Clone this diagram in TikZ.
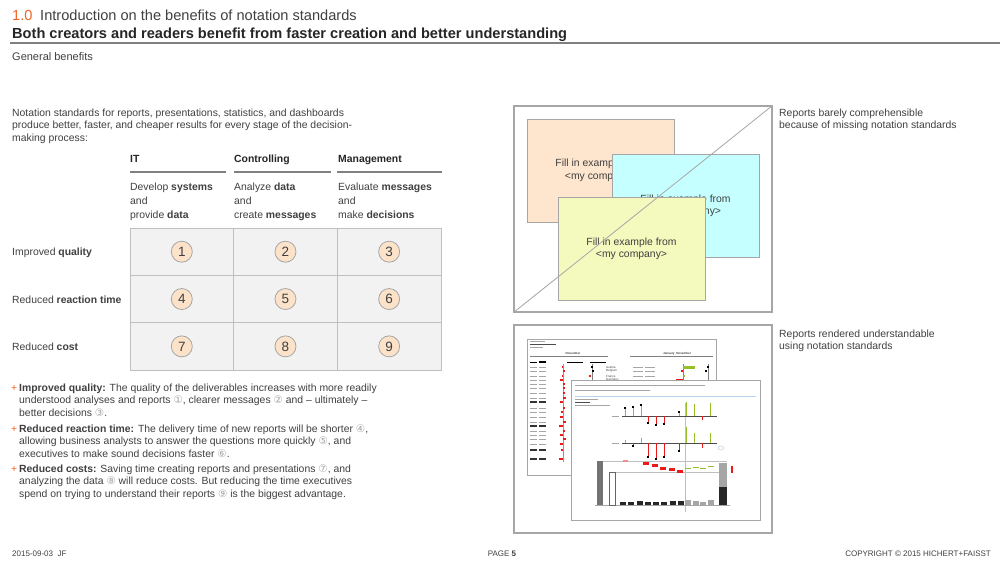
\documentclass[tikz,border=0pt]{standalone}
\usepackage{fontspec}
\setmainfont{Liberation Sans}
\newfontfamily\symfont{DejaVu Sans}
\usepackage{tikz}
\usetikzlibrary{positioning}
\definecolor{hfOrange}{RGB}{242,101,34}
\definecolor{hfText}{RGB}{64,64,64}
\definecolor{hfDark}{RGB}{38,38,38}
\definecolor{hfRule}{RGB}{128,128,128}
\definecolor{hfFrame}{RGB}{166,166,166}
\definecolor{hfCell}{RGB}{242,242,242}
\definecolor{hfCellLine}{RGB}{191,191,191}
\definecolor{hfPeach}{RGB}{253,229,206}
\definecolor{hfCircle}{RGB}{252,226,200}
\definecolor{hfCyan}{RGB}{197,255,255}
\definecolor{hfYellow}{RGB}{244,249,190}
\definecolor{hfGreen}{RGB}{150,190,40}
\definecolor{hfRed}{RGB}{235,25,25}
\definecolor{hfBlue}{RGB}{185,210,235}
\newcommand{\circnum}[1]{{\symfont\color{hfFrame}#1}}
\newcommand{\bodyfont}{\fontsize{10.4}{12.6}\selectfont}
\tikzset{
  body/.style={inner sep=0, anchor=base west, text=hfText, font=\bodyfont},
  para/.style={inner sep=0, anchor=north west, align=left, text=hfText, font=\bodyfont},
  plus/.style={inner sep=0, anchor=base west, text=hfOrange, font=\bodyfont},
  colhead/.style={inner sep=0, anchor=base west, text=hfDark, font=\bodyfont\bfseries},
  cellbox/.style={draw=hfCellLine, fill=hfCell, line width=0.8, minimum width=103.67, minimum height=47.33, inner sep=0},
  numcircle/.style={circle, draw=hfFrame, fill=hfCircle, line width=0.8, minimum size=21, inner sep=0, text=hfText, font=\fontsize{13.5}{13.5}\selectfont},
  picframe/.style={draw=hfFrame, line width=1.2, minimum width=258, inner sep=0},
  samplebox/.style={draw=hfFrame, line width=0.8, minimum width=147, minimum height=103, align=center, text=hfText, font=\bodyfont},
  footer/.style={inner sep=0, text=hfText, font=\fontsize{8}{9}\selectfont},
  thumbframe/.style={draw=hfFrame, line width=0.8, fill=white},
  txtstroke/.style={draw=gray!70, line width=1},
  tinytext/.style={inner sep=0, text=hfText, font=\fontsize{3}{3}\selectfont}
}

\begin{document}
\begin{tikzpicture}[x=1pt, y=-1pt]
	\fill[white] (0,0) rectangle (1000,562);
	\useasboundingbox (0,0) rectangle (1000,562);
	% title
	\node[inner sep=0, anchor=base west, text=hfOrange, font=\fontsize{14.6}{16}\selectfont] (secnum) at (12,20) {1.0};
	\node[inner sep=0, anchor=base west, text=hfText, font=\fontsize{14.6}{16}\selectfont] (sectitle) at (40,20) {Introduction on the benefits of notation standards};
	\node[inner sep=0, anchor=base west, text=hfDark, font=\fontsize{14.6}{16}\selectfont\bfseries] (headline) at (12,38) {Both creators and readers benefit from faster creation and better understanding};
	\draw[hfRule, line width=1.5] (10,43) -- (1000,43);
	\node[body, font=\fontsize{11}{13}\selectfont] (subhead) at (12,60) {General benefits};

	% intro and table
	\node[para] (intro) at (12,108.5) {Notation standards for reports, presentations, statistics, and dashboards\\produce better, faster, and cheaper results for every stage of the decision-\\making process:};
	\node[colhead] (headIT) at (130,162) {IT};
	\node[colhead] (headCtrl) at (234,162) {Controlling};
	\node[colhead] (headMgmt) at (338,162) {Management};
	\draw[hfRule, line width=2] (130,172) -- (226,172);
	\draw[hfRule, line width=2] (234,172) -- (331,172);
	\draw[hfRule, line width=2] (337,172) -- (442,172);
	\node[para, font=\fontsize{10.4}{14}\selectfont] (taskIT) at (130,182.5) {Develop \textbf{systems}\\and\\provide \textbf{data}};
	\node[para, font=\fontsize{10.4}{14}\selectfont] (taskCtrl) at (234,182.5) {Analyze \textbf{data}\\and\\create \textbf{messages}};
	\node[para, font=\fontsize{10.4}{14}\selectfont] (taskMgmt) at (338,182.5) {Evaluate \textbf{messages}\\and\\make \textbf{decisions}};

	\foreach \r in {0,1,2}
		\foreach \c in {0,1,2} {
			\pgfmathtruncatemacro{\n}{3*\r+\c+1}
			\node[cellbox] (cell\n) at (181.8+103.67*\c, 251.7+47.33*\r) {};
			\node[numcircle] (num\n) at (cell\n) {\n};
		}
	\node[body] (rowQuality) at (12,255) {Improved \textbf{quality}};
	\node[body] (rowTime) at (12,303) {Reduced \textbf{reaction time}};
	\node[body] (rowCost) at (12,350) {Reduced \textbf{cost}};

	% bullets
	\node[plus] (plusA) at (11,391) {+};
	\node[para] (bulletA) at (19,383.5) {\textbf{Improved quality:} The quality of the deliverables increases with more readily\\understood analyses and reports \circnum{①}, clearer messages \circnum{②} and -- ultimately --\\better decisions \circnum{③}.};
	\node[plus] (plusB) at (11,432) {+};
	\node[para] (bulletB) at (19,424.5) {\textbf{Reduced reaction time:} The delivery time of new reports will be shorter \circnum{④},\\allowing business analysts to answer the questions more quickly \circnum{⑤}, and\\executives to make sound decisions faster \circnum{⑥}.};
	\node[plus] (plusC) at (11,472) {+};
	\node[para] (bulletC) at (19,464.5) {\textbf{Reduced costs:} Saving time creating reports and presentations \circnum{⑦}, and\\analyzing the data \circnum{⑧} will reduce costs. But reducing the time executives\\spend on trying to understand their reports \circnum{⑨} is the biggest advantage.};

	% upper picture
	\node[picframe, minimum height=206] (badframe) at (643,209) {};
	\node[samplebox, fill=hfPeach] (peachbox) at (600.5,170.5) {Fill in example from\\<my company>};
	\node[samplebox, fill=hfCyan] (cyanbox) at (685.5,206) {Fill in example from\\<my company>};
	\node[samplebox, fill=hfYellow] (yellowbox) at (631.5,249) {Fill in example from\\<my company>};
	\draw[hfFrame, line width=0.8] (badframe.south west) -- (badframe.north east);
	\node[para] (badlabel) at (779,108.5) {Reports barely comprehensible\\because of missing notation standards};

	% lower picture
	\node[picframe, minimum height=208] (goodframe) at (643,429) {};
	\node[para] (goodlabel) at (779,329.5) {Reports rendered understandable\\using notation standards};

	% table report thumbnail
	\draw[thumbframe] (527,339) rectangle (716,475);
	\draw[txtstroke] (530,341.5) -- (545,341.5);
	\draw[txtstroke, draw=black!70] (530,344.5) -- (556,344.5);
	\draw[txtstroke] (530,347.5) -- (543,347.5);
	\node[tinytext] (tNov) at (573,353.5) {\textbf{November}};
	\node[tinytext] (tJanNov) at (677,353.5) {\textbf{January\_November}};
	\draw[gray, line width=0.5] (530,356) -- (608,356);
	\draw[gray, line width=0.5] (630,356) -- (713,356);
	\draw[black, line width=0.5] (530,362) -- (537,362) (567,362) -- (583,362) (590,362) -- (606,362);
	\draw[black, line width=1.2] (539,362) -- (546,362);
	\foreach \y in {367,371,376,380,384,388,393,398,408,412,417,422,431,435,439,444}
		\draw[txtstroke, line width=0.8] (530,\y) -- (537,\y) (539,\y) -- (546,\y);
	\foreach \y in {402,426,450,459}
		\draw[txtstroke, draw=black!80, line width=1.2] (530,\y) -- (537,\y) (539,\y) -- (546,\y);
	\draw[hfGreen!70!gray, line width=0.8] (563,364) -- (563,462);
	\foreach \y/\v in {367/-1,371/2,376/-1,380/-3,384/2,388/2,393/2,398/3,402/-3,408/2,412/-2,417/-3,422/3,426/-4,431/2,435/-3,439/3,444/-3,450/-2,459/-4}
		\fill[hfRed] (563,\y-1) rectangle (563+\v,\y+1);
	\draw[gray, line width=0.5] (592,364) -- (592,382);
	\fill[black] (590.5,366) rectangle (592.5,368);
	\fill[black] (592,370) rectangle (594,372);
	\fill[hfRed] (589,375) rectangle (591,377);
	\foreach \y/\name in {367/Austria,371/Belgium,376/France,380/Germany} {
		\node[tinytext, anchor=west] (t\name) at (606,\y) {\name};
		\draw[txtstroke, line width=0.8] (633,\y) -- (643,\y) (645,\y) -- (655,\y);
	}
	\draw[gray, line width=0.5] (683,364) -- (683,382) (708,364) -- (708,382);
	\fill[hfGreen] (683,366) rectangle (695,368.5);
	\fill[hfRed] (681,370) rectangle (683,372);
	\fill[hfGreen] (683,375) rectangle (685,377);
	\fill[hfRed] (676,379) rectangle (683,381);
	\fill[black] (707,366) rectangle (709,368);
	\fill[black] (705,370) rectangle (707,372);

	% chart report thumbnail
	\draw[thumbframe] (571,380) rectangle (760,520);
	\draw[txtstroke] (575,385) -- (705,385);
	\draw[txtstroke] (575,390) -- (650,390);
	\draw[hfBlue, line width=0.8] (575,396) -- (756,396);
	\draw[txtstroke, line width=0.8] (575,399.5) -- (598,399.5) (575,405.5) -- (610,405.5);
	\draw[txtstroke, draw=black!70, line width=0.8] (575,402.5) -- (590,402.5);
	\draw[gray!50, line width=0.6] (685,403) -- (685,512);
	\foreach \ya in {416,443} {
		\draw[black!70, line width=0.8] (622,\ya) -- (717,\ya);
		\draw[txtstroke, line width=0.8] (612,\ya) -- (619,\ya);
	}
	\foreach \x/\h in {625/8,633/9,641/11,679/4,686/14,694/12,710/13}
		\draw[hfGreen, line width=1] (\x,416) -- (\x,416-\h);
	\foreach \x/\h in {625/8,633/9,641/11,679/4}
		\fill[black] (\x-1.3,416-\h-1.3) rectangle (\x+1.3,416-\h+1.3);
	\foreach \x/\h in {648/7,656/9,664/8,702/4}
		\draw[hfRed, line width=1] (\x,416) -- (\x,416+\h);
	\foreach \x/\h in {648/7,656/9,664/8}
		\fill[black] (\x-1.3,416+\h-1.3) rectangle (\x+1.3,416+\h+1.3);
	\foreach \x/\h in {625/3,641/5,686/16,694/10,710/10}
		\draw[hfGreen, line width=1] (\x,443) -- (\x,443-\h);
	\foreach \x/\h in {633/3,648/14,656/16,664/14,679/8,702/5}
		\draw[hfRed, line width=1] (\x,443) -- (\x,443+\h);
	\foreach \x/\h in {633/3,648/14,656/16,664/14,679/8}
		\fill[black] (\x-1.3,443+\h-1.3) rectangle (\x+1.3,443+\h+1.3);
	\draw[hfBlue, line width=0.5] (721,448) ellipse (3 and 2);
	\draw[gray!50, line width=0.5] (597,461) -- (727,461) (609,472) -- (727,472);
	\draw[gray!70, line width=0.6] (595,505) -- (730,505);
	\fill[black!55] (597,461) rectangle (603,505);
	\draw[black!60, line width=0.5] (609,472) rectangle (615,505);
	\foreach \x/\y in {646/462,655/464,663/467,672/468,680/470}
		\fill[hfRed] (\x-3,\y) rectangle (\x+3,\y+2.5);
	\fill[hfRed!50] (623,460) rectangle (628,461.5);
	\foreach \x/\y in {688/468,696/467,703/468,711/466}
		\fill[hfGreen] (\x-3,\y) rectangle (\x+3,\y+1.2);
	\fill[black!35] (719,463) rectangle (727,487);
	\fill[black!85] (719,487) rectangle (727,505);
	\fill[hfRed] (731,466) rectangle (732.5,473);
	\foreach \x/\h in {623/3,631/3.5,640/4,648/3,656/3,664/3,673/4,681/4.5}
		\fill[black!85] (\x-3,505-\h) rectangle (\x+3,505);
	\foreach \x/\h in {688/5,696/4,703/3.5,711/5.5}
		\fill[black!35] (\x-3,505-\h) rectangle (\x+3,505);

	% footer
	\node[footer, anchor=base west] (footdate) at (12,556) {2015-09-03\ \ JF};
	\node[footer, anchor=base] (footpage) at (502,556) {PAGE \textbf{5}};
	\node[footer, anchor=base east] (footcopy) at (991,556) {COPYRIGHT © 2015 HICHERT+FAISST};
\end{tikzpicture}
\end{document}
